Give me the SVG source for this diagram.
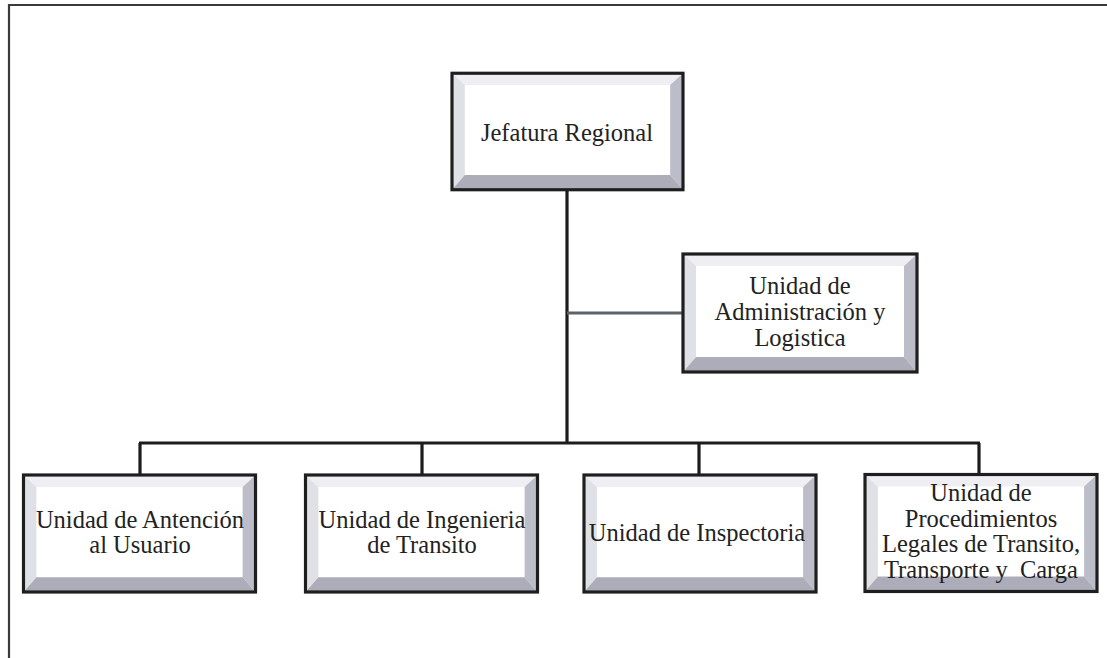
<svg xmlns="http://www.w3.org/2000/svg" xmlns:xlink="http://www.w3.org/1999/xlink" width="1107" height="658" viewBox="0 0 1107 658">
<style>
  .frame{stroke:#3a3a3a;stroke-width:2.2;fill:none}
  .conn{stroke:#1c1c1c;stroke-width:3.2;fill:none}
  .conn-g{stroke:#5c6268;stroke-width:3.2;fill:none}
  .lbl{font-family:"Liberation Serif","Times New Roman",serif;font-size:24.5px;fill:#222;text-anchor:middle;white-space:pre}
</style>
<defs>
  <symbol id="box" viewBox="0 0 234 118" width="234" height="118" overflow="visible">
    <rect x="0" y="0" width="234" height="118" fill="#ffffff"/>
    <polygon points="0,0 234,0 221,12 13,12" fill="#efeff3"/>
    <polygon points="0,0 13,12 13,103 0,118" fill="#e0e0e7"/>
    <polygon points="234,0 234,118 221,103 221,12" fill="#bdbdc9"/>
    <polygon points="0,118 13,103 221,103 234,118" fill="#adadb9"/>
    <rect x="0" y="0" width="234" height="118" fill="none" stroke="#1e1e1e" stroke-width="3.2"/>
  </symbol>
</defs>

<path class="frame" d="M9,658 V5 H1107"/>

<g id="connectors">
  <line class="conn" x1="567" y1="190" x2="567" y2="443"/>
  <line class="conn-g" x1="567" y1="313" x2="683" y2="313"/>
  <line class="conn" x1="139" y1="443" x2="980" y2="443"/>
  <line class="conn" x1="140" y1="443" x2="140" y2="475"/>
  <line class="conn" x1="422" y1="443" x2="422" y2="475"/>
  <line class="conn" x1="699" y1="443" x2="699" y2="475"/>
  <line class="conn" x1="979" y1="443" x2="979" y2="474"/>
</g>

<g id="jefatura">
  <use xlink:href="#box" x="452" y="73" width="231" height="117"/>
  <text class="lbl" x="567" y="141">Jefatura Regional</text>
</g>

<g id="administracion">
  <use xlink:href="#box" x="683" y="254" width="234" height="118"/>
  <text class="lbl"><tspan x="800" y="294">Unidad de</tspan><tspan x="800" y="320">Administración y</tspan><tspan x="800" y="346">Logistica</tspan></text>
</g>

<g id="atencion">
  <use xlink:href="#box" x="22" y="475" width="235" height="117"/>
  <text class="lbl"><tspan x="140" y="528">Unidad de Antención</tspan><tspan x="140" y="553">al Usuario</tspan></text>
</g>

<g id="ingenieria">
  <use xlink:href="#box" x="305" y="475" width="233" height="117"/>
  <text class="lbl"><tspan x="422" y="528">Unidad de Ingenieria</tspan><tspan x="422" y="553">de Transito</tspan></text>
</g>

<g id="inspectoria">
  <use xlink:href="#box" x="583" y="475" width="234" height="117"/>
  <text class="lbl" x="697" y="541">Unidad de Inspectoria</text>
</g>

<g id="procedimientos">
  <use xlink:href="#box" x="865" y="474" width="232" height="118"/>
  <text class="lbl" xml:space="preserve"><tspan x="981" y="501">Unidad de</tspan><tspan x="981" y="527">Procedimientos</tspan><tspan x="981" y="552">Legales de Transito,</tspan><tspan x="981" y="578">Transporte y  Carga</tspan></text>
</g>
</svg>
